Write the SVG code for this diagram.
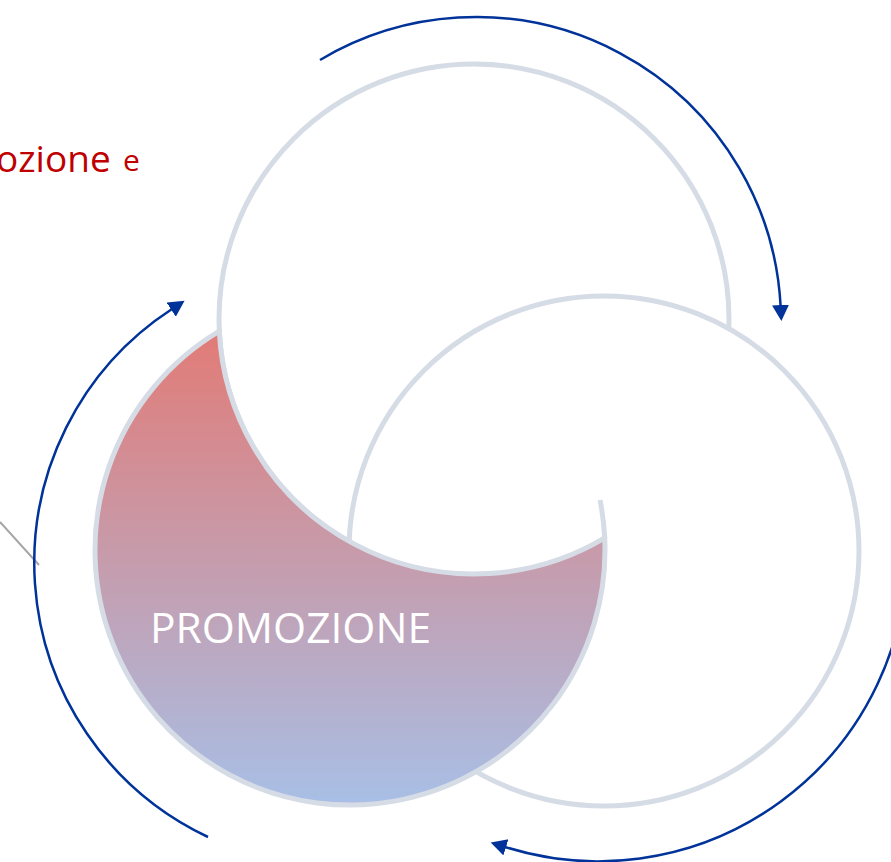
<svg xmlns="http://www.w3.org/2000/svg" width="891" height="862" viewBox="0 0 891 862">
<style>
.ring{fill:#FFFFFF;stroke:#D6DCE5;stroke-width:5}
.edge{fill:none;stroke:#D6DCE5;stroke-width:5}
.arr{fill:none;stroke:#003399;stroke-width:2.5}
.lbl{font-family:"Open Sans","Liberation Sans",sans-serif;fill:#FFFFFF;font-size:42.5px}
.red{font-family:"Open Sans","Liberation Sans",sans-serif;fill:#C00000}
</style>
<defs>
<linearGradient id="grad" gradientUnits="userSpaceOnUse" x1="0" y1="330" x2="0" y2="805">
<stop offset="0" stop-color="#E27B76"/>
<stop offset="1" stop-color="#A8BFE6"/>
</linearGradient>
<marker id="head" markerUnits="userSpaceOnUse" markerWidth="17" markerHeight="18" refX="1" refY="8.5" orient="auto">
<path d="M0,0 L16,8.5 L0,17 Z" fill="#003399"/>
</marker>
</defs>
<g id="caption">
<text class="red" x="-4" y="172" font-size="37">ozione</text>
<text class="red" x="123" y="171" font-size="30">e</text>
</g>
<line x1="0" y1="522" x2="39" y2="565" stroke="#A6A6A6" stroke-width="2"/>
<g id="circle-top">
<circle class="ring" cx="474" cy="319" r="255"/>
</g>
<g id="circle-right">
<circle class="ring" cx="604" cy="551" r="255"/>
</g>
<g id="circle-promozione">
<path d="M219.3,331.1 A255,255 0 1,0 604.7,537.9 A255,255 0 0,1 219.3,331.1 Z" fill="url(#grad)" stroke="#D6DCE5" stroke-width="5" stroke-linejoin="miter"/>
<path class="edge" d="M600,500 A255,255 0 0,1 604.7,537.9"/>
<text class="lbl" x="150" y="643">PROMOZIONE</text>
</g>
<g id="connectors">
<path class="arr" d="M320,60 A305,305 0 0,1 780.6,306" marker-end="url(#head)"/>
<path class="arr" d="M907,552 A309,309 0 0,1 505,847" marker-end="url(#head)"/>
<path class="arr" d="M208,837 A303,303 0 0,1 172,309" marker-end="url(#head)"/>
</g>
</svg>
